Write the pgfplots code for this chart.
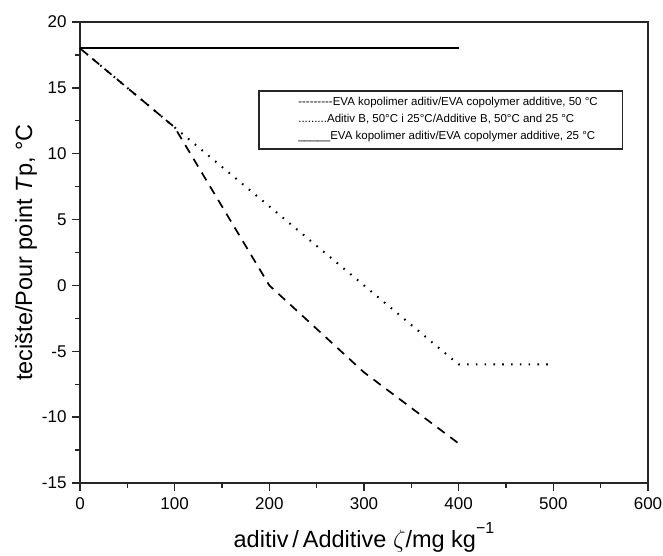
\documentclass[border=0pt]{standalone}
\usepackage{fontspec}
\setmainfont{Liberation Sans}
\usepackage{pgfplots}
\pgfplotsset{compat=1.18}
\newcommand\hy{\mbox{-}}

\begin{document}
\begin{tikzpicture}
\begin{axis}[
  at={(0,0)}, anchor=south west,
  scale only axis, width=568pt, height=461pt,
  xmin=0, xmax=600, ymin=-15, ymax=20,
  xtick={0,100,...,600}, ytick={-15,-10,...,20},
  yticklabels={-15,-10,-5,0,5,10,15,20},
  minor x tick num=1, minor y tick num=1,
  tick align=outside, tick pos=left,
  major tick length=8pt, minor tick length=5pt,
  every tick/.style={black!85, line width=1.3pt},
  axis line style={black!85, line width=1.6pt},
  /pgf/number format/assume math mode=true,
  ticklabel style={font=\fontsize{17}{19}\selectfont},
  xticklabel style={yshift=-3pt},
  yticklabel style={xshift=-2pt},
  label style={font=\fontsize{23.5}{25}\selectfont},
  xlabel={aditiv\,/\,Additive $\zeta$/mg kg\raisebox{0.6em}{\fontsize{16}{16}\selectfont −1}},
  xlabel style={yshift=-6pt},
  ylabel={tecište/Pour point \textit{T}p, °C},
  ylabel style={yshift=-2pt},
  clip=false,
]
  % EVA kopolimer, 50 C
  \addplot[black, line width=1.7pt, dash pattern=on 9pt off 7pt] coordinates {
    (0,18) (100,12) (200,0) (300,-6.6) (400,-12)
  };
  % Aditiv B, 50 C i 25 C
  \addplot[black, line width=2pt, dash pattern=on 1.6pt off 7.2pt] coordinates {
    (0,18) (100,12) (400,-6) (500,-6)
  };
  % EVA kopolimer, 25 C
  \addplot[black, line width=1.8pt] coordinates {
    (0,18) (400,18)
  };

  \draw[black!85, line width=1.5pt] (axis cs:189.2,14.76) rectangle (axis cs:573,10.36);
  \node[anchor=west, xshift=39pt, inner sep=0pt, align=left,
        font=\fontsize{11.5}{17}\selectfont] at (axis cs:189.2,12.56)
    {\hy\hy\hy\hy\hy\hy\hy\hy\hy EVA kopolimer aditiv/EVA copolymer additive, 50 °C\\
     .........Aditiv B, 50°C i 25°C/Additive B, 50°C and 25 °C\\
     \_\_\_\_\_EVA kopolimer aditiv/EVA copolymer additive, 25 °C};
\end{axis}
\pgfresetboundingbox
\path (-80pt,-73pt) rectangle (583pt,483pt);
\end{tikzpicture}
\end{document}
